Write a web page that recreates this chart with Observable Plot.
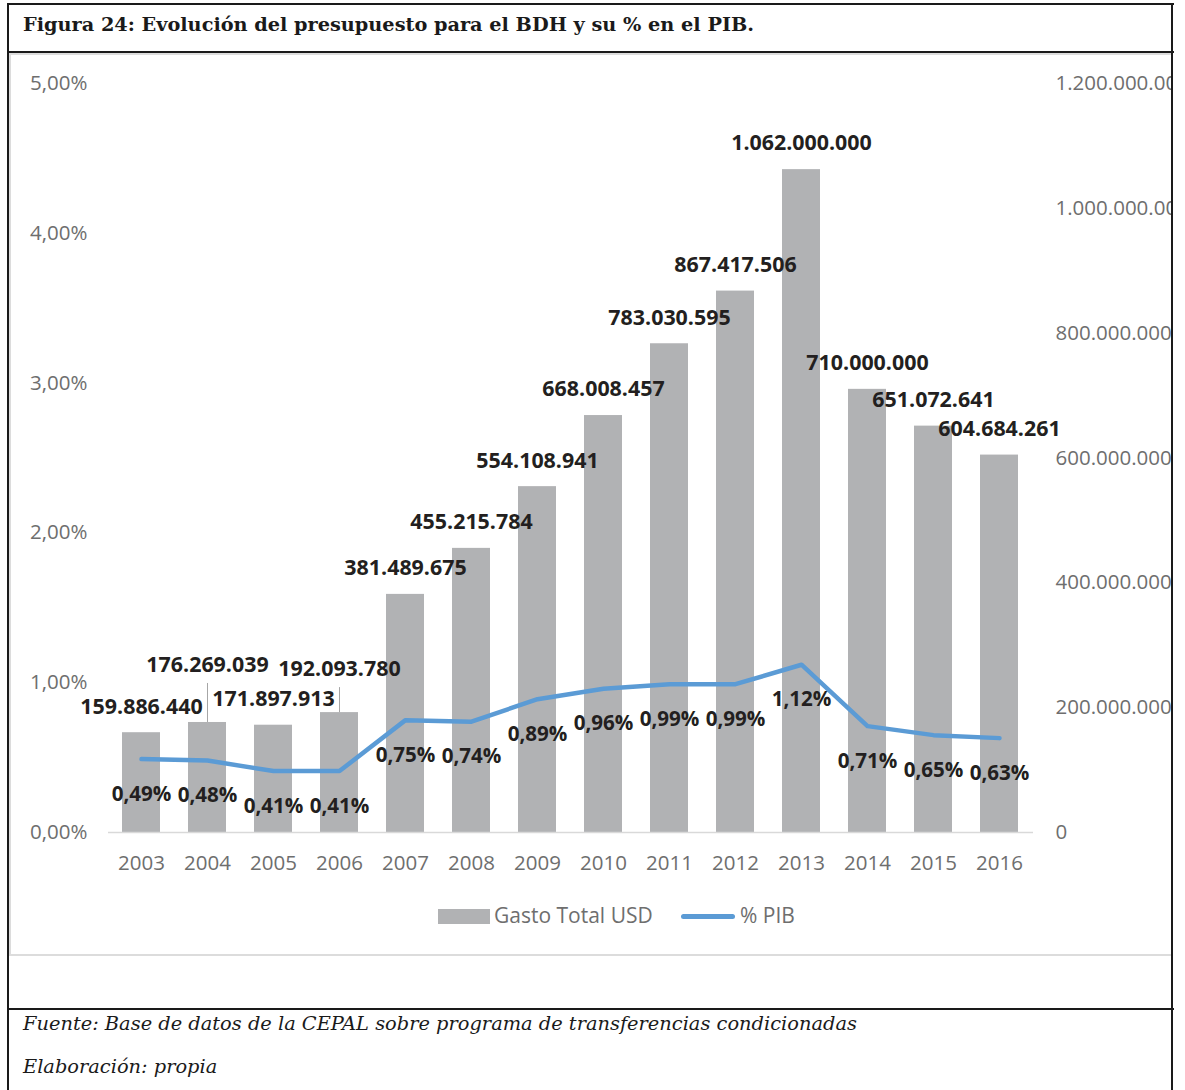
<!DOCTYPE html>
<html>
<head>
<meta charset="utf-8">
<script src="https://cdn.jsdelivr.net/npm/d3@7"></script>
<script src="https://cdn.jsdelivr.net/npm/@observablehq/plot@0.6"></script>
<style>
  html, body { margin: 0; padding: 0; background: #fff; }
  #page { position: relative; width: 1185px; height: 1090px; overflow: hidden; background: #fff; }
  .line { position: absolute; background: #1a1a1a; }
  .soft { position: absolute; background: #dcdcdc; }
  #title { position: absolute; left: 23px; top: 13px; font-family: "DejaVu Serif", serif; font-weight: bold; font-size: 19.3px; color: #1a1a1a; white-space: nowrap; }
  .note { position: absolute; left: 23px; font-family: "DejaVu Serif", serif; font-style: italic; font-size: 19.4px; color: #1a1a1a; white-space: nowrap; }
  #chart { position: absolute; left: 0; top: 53px; width: 1172px; height: 840px; overflow: hidden; }
  #legend { position: absolute; top: 903px; left: 0; width: 1172px; font-family: "Open Sans", sans-serif; font-size: 21px; color: #6e6e6e; }
  .lg { position: absolute; }
</style>
</head>
<body>
<div id="page">
  <div class="soft" style="left:8px; top:53px; width:1164px; height:2px;"></div>
  <div class="soft" style="left:8px; top:954px; width:1164px; height:2px;"></div>
  <div class="soft" style="left:9px; top:53px; width:2px; height:902px;"></div>
  <div id="chart"></div>
  <div id="legend">
    <div class="lg" style="left:438px; top:6px; width:52px; height:15px; background:#b1b2b4;"></div>
    <div class="lg" style="left:494px; top:-2px;">Gasto Total USD</div>
    <div class="lg" style="left:681px; top:11px; width:54px; height:5px; border-radius:3px; background:#5b9bd5;"></div>
    <div class="lg" style="left:740px; top:-2px;">% PIB</div>
  </div>
  <div id="title">Figura 24: Evolución del presupuesto para el BDH y su % en el PIB.</div>
  <div class="note" style="top:1012px;">Fuente: Base de datos de la CEPAL sobre programa de transferencias condicionadas</div>
  <div class="note" style="top:1055px;">Elaboración: propia</div>
  <div class="line" style="left:7px; top:3px; width:1167px; height:2px;"></div>
  <div class="line" style="left:7px; top:51px; width:1167px; height:2px;"></div>
  <div class="line" style="left:7px; top:1008px; width:1167px; height:2px;"></div>
  <div class="line" style="left:7px; top:3px; width:2px; height:1087px;"></div>
  <div class="line" style="left:1171px; top:3px; width:2px; height:1087px;"></div>
</div>
<script>
// ---- data ----
const years = ["2003","2004","2005","2006","2007","2008","2009","2010","2011","2012","2013","2014","2015","2016"];
const gastoTotal = [159886440, 176269039, 171897913, 192093780, 381489675, 455215784, 554108941, 668008457, 783030595, 867417506, 1062000000, 710000000, 651072641, 604684261];
const pctPIB = [0.49, 0.48, 0.41, 0.41, 0.75, 0.74, 0.89, 0.96, 0.99, 0.99, 1.12, 0.71, 0.65, 0.63];
const leftTickValues = [0, 1, 2, 3, 4, 5];
const leftTickLabels = ["0,00%", "1,00%", "2,00%", "3,00%", "4,00%", "5,00%"];
const rightTickValues = [0, 200000000, 400000000, 600000000, 800000000, 1000000000, 1200000000];
const rightTickLabels = ["0", "200.000.000", "400.000.000", "600.000.000", "800.000.000", "1.000.000.000", "1.200.000.000"];

// ---- derived ----
const locale = d3.formatLocale({decimal: ",", thousands: ".", grouping: [3], currency: ["", ""]});
const fmtInt = locale.format(",d");
const fmtPct = v => locale.format(",.2f")(v) + "%";

const yMax = 1200000000;
const pctMax = 5;
const pctToY = p => p / pctMax * yMax;

const rows = years.map((y, i) => ({year: y, gasto: gastoTotal[i], pct: pctPIB[i], pctY: pctToY(pctPIB[i])}));

const W = 1172, H = 840, mT = 30, mB = 61, mL = 108, mR = 139;
const pxPerUnit = (H - mT - mB) / yMax;
// extra lift (px) of a few bar labels to avoid overlap, with leader lines
const extraLift = {"2004": 31, "2006": 17};
const baseLift = 26;

const leaders = rows.filter(d => extraLift[d.year]).map(d => ({
  year: d.year,
  y1: d.gasto,
  y2: d.gasto + (baseLift + extraLift[d.year] - 18) / pxPerUnit
}));

const font = '"Open Sans", sans-serif';

const chart = Plot.plot({
  width: W, height: H,
  marginTop: mT, marginBottom: mB, marginLeft: mL, marginRight: mR,
  style: {fontFamily: font, background: "transparent", overflow: "visible"},
  x: {domain: years, paddingInner: 0.42, paddingOuter: 0.21, label: null},
  y: {domain: [0, yMax], label: null},
  marks: [
    Plot.barY(rows, {x: "year", y: "gasto", fill: "#b1b2b4"}),
    Plot.ruleY([0], {stroke: "#d9d9d9", strokeWidth: 1.5}),
    Plot.ruleX(leaders, {x: "year", y1: "y1", y2: "y2", stroke: "#a6a6a6", strokeWidth: 1}),
    Plot.lineY(rows, {x: "year", y: "pctY", stroke: "#5b9bd5", strokeWidth: 4.5, strokeLinejoin: "round", strokeLinecap: "round"}),
    ...years.map((yr, i) => Plot.text([rows[i]], {
      x: "year", y: "gasto", text: d => fmtInt(d.gasto),
      dy: -(baseLift + (extraLift[yr] || 0)),
      fontSize: 21.4, fontWeight: "bold", fill: "#231f20", lineAnchor: "middle"
    })),
    Plot.text(rows, {x: "year", y: "pctY", text: d => fmtPct(d.pct), dy: 35, fontSize: 20.6, fontWeight: "bold", fill: "#231f20", lineAnchor: "middle"}),
    Plot.axisX({tickSize: 0, tickPadding: 23, fontSize: 20.5, color: "#6e6e6e", label: null}),
    Plot.axisY({anchor: "left", ticks: leftTickValues.map(pctToY), tickFormat: (d, i) => leftTickLabels[i], tickSize: 0, tickPadding: 21, fontSize: 20.5, color: "#6e6e6e", label: null}),
    Plot.axisY({anchor: "right", ticks: rightTickValues, tickFormat: (d, i) => rightTickLabels[i], tickSize: 0, tickPadding: 22, fontSize: 20.5, color: "#6e6e6e", label: null})
  ]
});
document.getElementById("chart").appendChild(chart);
</script>
</body>
</html>
